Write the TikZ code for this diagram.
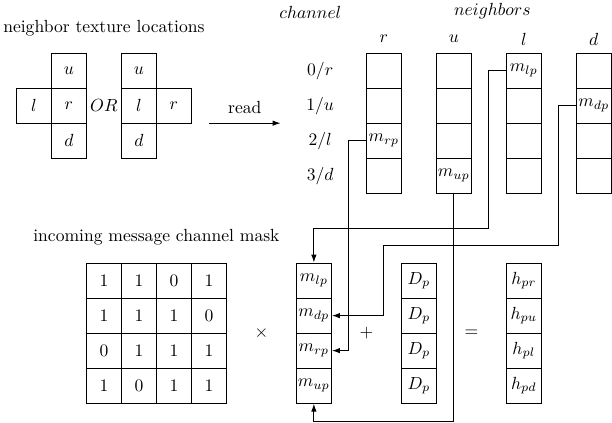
\documentclass[tikz,border=0pt]{standalone}
\usetikzlibrary{positioning,arrows.meta}
\tikzset{
  cell/.style={draw, semithick, minimum size=0.7cm, inner sep=0pt},
  link/.style={semithick, -{Latex[length=1.6mm,width=1.1mm]}}
}
\begin{document}
\begin{tikzpicture}[x=0.7cm,y=0.7cm]
  \useasboundingbox (-0.47,-0.56) rectangle (17.02,11.52);
  % neighbor texture locations
  \node (title) at (2.5,10.72) {neighbor texture locations};
  \node[cell] (au) at (1.5,9.5) {$u$};
  \node[cell] (ar) at (1.5,8.5) {$r$};
  \node[cell] (ad) at (1.5,7.5) {$d$};
  \node[cell] (al) at (0.5,8.5) {$l$};
  \node (or) at (2.5,8.5) {$OR$};
  \node[cell] (bu) at (3.5,9.5) {$u$};
  \node[cell] (bl) at (3.5,8.5) {$l$};
  \node[cell] (bd) at (3.5,7.5) {$d$};
  \node[cell] (br) at (4.5,8.5) {$r$};
  \coordinate (read0) at (5.5,8);
  \coordinate (read1) at (7.55,8);
  \draw[link] (read0) -- node[above=2pt] {read} (read1);
  % neighbor textures
  \node (channel) at (8.4,11.17) {$channel$};
  \node (neighbors) at (13.6,11.2) {$neighbors$};
  \foreach \i/\a in {0/r,1/u,2/l,3/d}
    \node (ch\i) at (8.68,9.5-\i) {$\i/\a$};
  \foreach \c/\x in {r/10.5,u/12.5,l/14.5,d/16.5} {
    \node (h\c) at (\x,10.4) {$\c$};
    \foreach \i in {0,...,3}
      \node[cell] (\c\i) at (\x,9.5-\i) {};
  }
  \node at (r2) {$m_{rp}$};
  \node at (u3) {$m_{up}$};
  \node at (l0) {$m_{lp}$};
  \node at (d1) {$m_{dp}$};
  % incoming message channel mask
  \node (mask) at (4,4.75) {incoming message channel mask};
  \foreach \row [count=\i from 0] in {{1,1,0,1},{1,1,1,0},{0,1,1,1},{1,0,1,1}}
    \foreach \v [count=\j from 0] in \row
      \node[cell] (k\i\j) at (2.5+\j,3.5-\i) {$\v$};
  \node (times) at (7,2) {$\times$};
  \node (plus) at (10,2) {$+$};
  \node (eq) at (13,2) {$=$};
  \foreach \n [count=\i from 0] in {lp,dp,rp,up} {
    \node[cell] (m\n) at (8.5,3.5-\i) {$m_{\n}$};
    \node[cell] (D\i) at (11.5,3.5-\i) {$D_p$};
  }
  \foreach \n [count=\i from 0] in {pr,pu,pl,pd}
    \node[cell] (h\i) at (14.5,3.5-\i) {$h_{\n}$};
  % reads
  \draw[link] (l0.west) -- ++(-0.5,0) -- ++(0,-4.5) -| (mlp.north);
  \draw[link] (d1.west) -- ++(-0.5,0) -- ++(0,-4) -- ++(-5,0) |- (mdp.east);
  \draw[link] (r2.west) -- ++(-0.5,0) |- (mrp.east);
  \draw[link] (u3.south) -- ++(0,-6.5) -| (mup.south);
\end{tikzpicture}
\end{document}
